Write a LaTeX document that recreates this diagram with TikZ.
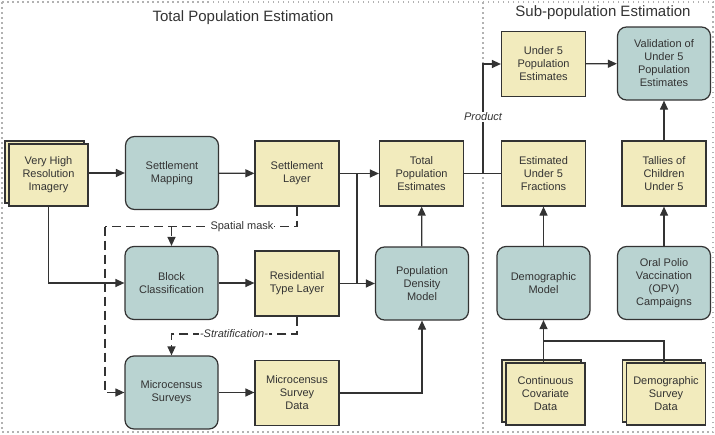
\documentclass[tikz,border=0pt]{standalone}
\usepackage{fontspec}
\setmainfont{Liberation Sans}
\usetikzlibrary{arrows.meta,shadows}
\definecolor{datafill}{RGB}{242,235,189}
\definecolor{procfill}{RGB}{185,211,209}
\definecolor{linegray}{RGB}{51,51,51}

\begin{document}
\begin{tikzpicture}[x=1pt,y=-1pt,
    font=\fontsize{11}{13}\selectfont,
    box/.style={draw=linegray,line width=1.2pt,align=center,inner sep=0pt,text=linegray},
    data/.style={box,fill=datafill,minimum width=84pt,minimum height=65pt},
    proc/.style={box,fill=procfill,rounded corners=9pt,minimum width=93pt,minimum height=73pt},
    stack/.style={box,fill=datafill,minimum width=79pt,minimum height=62pt,
        copy shadow={shadow xshift=-4pt,shadow yshift=3pt}},
    link/.style={draw=linegray,line width=1.2pt},
    arr/.style={link,-{Triangle[length=9pt,width=8pt]}},
    dashlink/.style={link,dash pattern=on 9pt off 5pt},
    note/.style={fill=white,inner sep=1pt,text=linegray},
    frame/.style={draw=gray!60,line width=1.5pt,dash pattern=on 1.5pt off 3.5pt},
    title/.style={font=\fontsize{15}{18}\selectfont,text=linegray}]

    \useasboundingbox (0,0) rectangle (715,434);
    \draw[frame] (2,2) rectangle (713,432);
    \draw[frame] (483,2) -- (483,432);

    \node[title] (ttot) at (243,18) {Total Population Estimation};
    \node[title] (tsub) at (603,13) {Sub-population Estimation};

    \node[stack] (vhr) at (48.5,175) {Very High\\Resolution\\Imagery};
    \node[proc] (smap) at (172,173) {Settlement\\Mapping};
    \node[data] (slay) at (297,173.5) {Settlement\\Layer};
    \node[data] (tpe) at (421.5,173.5) {Total\\Population\\Estimates};
    \node[proc] (blk) at (171.5,283) {Block\\Classification};
    \node[data] (rtl) at (297,283.5) {Residential\\Type Layer};
    \node[proc] (pdm) at (422,283.5) {Population\\Density\\Model};
    \node[proc] (mcs) at (171.5,392.5) {Microcensus\\Surveys};
    \node[data] (msd) at (297,393) {Microcensus\\Survey\\Data};

    \node[data] (u5pe) at (543.5,64) {Under 5\\Population\\Estimates};
    \node[proc] (val) at (664,63.5) {Validation of\\Under 5\\Population\\Estimates};
    \node[data] (eu5f) at (543.5,173.5) {Estimated\\Under 5\\Fractions};
    \node[data] (tal) at (664,173.5) {Tallies of\\Children\\Under 5};
    \node[proc] (dem) at (543.5,283) {Demographic\\Model};
    \node[proc] (opv) at (664,283) {Oral Polio\\Vaccination\\(OPV)\\Campaigns};
    \node[stack] (ccd) at (545.5,394) {Continuous\\Covariate\\Data};
    \node[stack] (dsd) at (666,394) {Demographic\\Survey\\Data};

    \coordinate (jl) at (357,173.5);
    \coordinate (jr) at (357,283.5);
    \coordinate (jp) at (483,173.5);
    \coordinate (jd) at (543.5,341);
    \coordinate (sm) at (105,226.5);
    \coordinate (st) at (171.5,334);

    \draw[arr] (vhr.east |- smap.west) -- (smap.west);
    \draw[arr] (vhr.south) |- (blk.west);
    \draw[arr] (smap) -- (slay);
    \draw[arr] (slay) -- (tpe);
    \draw[arr] (blk.east) -- (blk.east -| rtl.west);
    \draw[arr] (rtl) -- (pdm);
    \draw[link] (jl) -- (jr);
    \draw[arr] (mcs.east) -- (mcs.east -| msd.west);
    \draw[arr] (msd) -| (pdm);
    \draw[arr] (pdm) -- (tpe);
    \draw[link] (tpe) -- (eu5f);
    \draw[arr] (jp) |- (u5pe);
    \draw[arr] (u5pe) -- (val);
    \draw[arr] (tal) -- (val);
    \draw[arr] (opv) -- (tal);
    \draw[arr] (dem) -- (eu5f);
    \draw[arr] (ccd.north -| dem) -- (dem);
    \draw[link] (dsd.north -| tal) |- (jd);

    \draw[dashlink] (slay.south) |- (sm);
    \draw[dashlink,-{Triangle[length=9pt,width=8pt]}] (sm) |- (mcs.west);
    \draw[dashlink,-{Triangle[length=9pt,width=8pt]}] (sm -| blk) -- (blk.north);
    \draw[dashlink,-{Triangle[length=9pt,width=8pt]}] (rtl.south) |- (st) -- (mcs.north);

    \node[note] (smask) at (242,226.5) {Spatial mask};
    \node[note,font=\fontsize{11}{13}\selectfont\itshape] (strat) at (234,334) {-Stratification-};
    \node[note,font=\fontsize{11}{13}\selectfont\itshape] (prod) at (483,117) {Product};

\end{tikzpicture}
\end{document}
